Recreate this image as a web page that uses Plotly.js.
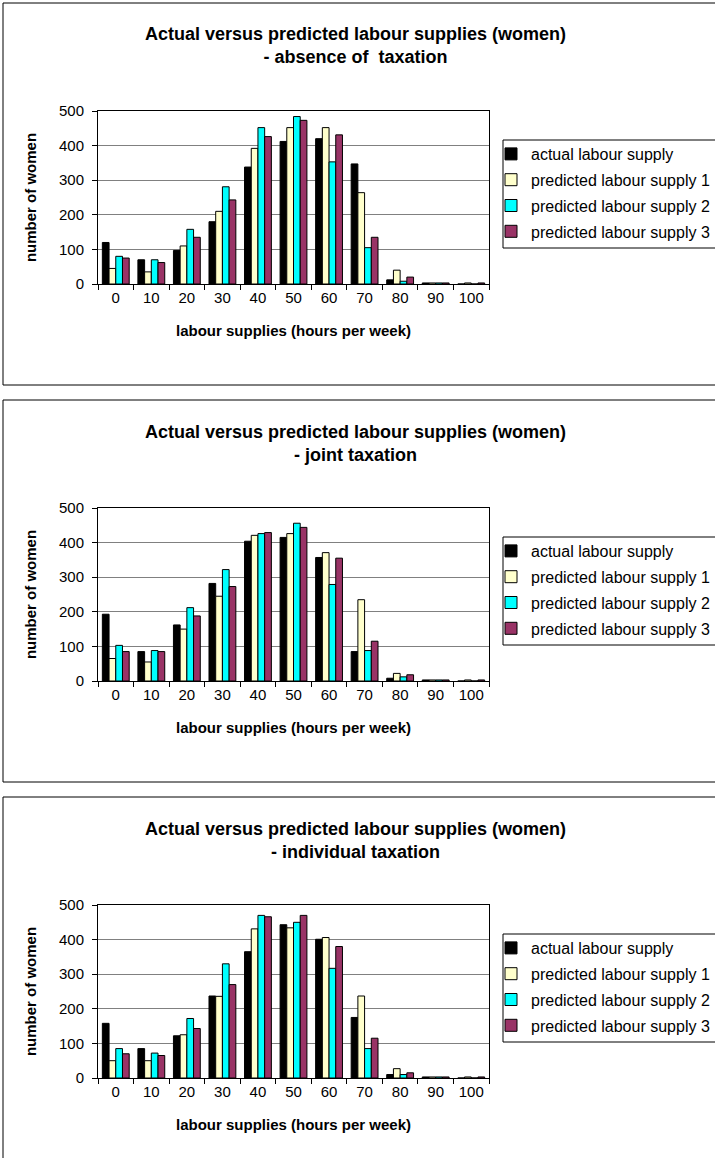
<!DOCTYPE html>
<html>
<head>
<meta charset="utf-8">
<script src="https://cdn.plot.ly/plotly-3.0.1.min.js"></script>
<style>html,body{margin:0;padding:0;background:#fff;}#chart{width:715px;height:1158px;}</style>
</head>
<body>
<div id="chart"></div>
<script>
const categories = ['0','10','20','30','40','50','60','70','80','90','100'];
const seriesNames = ['actual labour supply','predicted labour supply 1','predicted labour supply 2','predicted labour supply 3'];
const seriesColors = ['#000000','#FFFFCC','#00FFFF','#993366'];
const chartTitles = [
  'Actual versus predicted labour supplies (women)<br>- absence of  taxation',
  'Actual versus predicted labour supplies (women)<br>- joint taxation',
  'Actual versus predicted labour supplies (women)<br>- individual taxation'
];
const yTickVals = [0,100,200,300,400,500];

const absenceActual = [120,70,97,180,338,412,420,347,12,3,0];
const absencePred1  = [45,35,110,210,392,452,452,264,40,3,3];
const absencePred2  = [80,70,158,281,452,484,353,105,8,3,0];
const absencePred3  = [75,62,135,243,426,473,431,135,20,3,3];

const jointActual = [193,85,162,282,404,415,357,85,8,3,0];
const jointPred1  = [65,55,150,245,421,426,371,235,22,3,3];
const jointPred2  = [103,88,212,322,426,456,279,88,12,3,0];
const jointPred3  = [85,85,188,273,429,444,355,115,18,3,3];

const indivActual = [158,85,122,237,365,443,401,175,10,3,0];
const indivPred1  = [50,50,125,236,431,434,406,237,27,3,3];
const indivPred2  = [85,72,172,330,470,450,317,85,10,3,0];
const indivPred3  = [70,65,143,270,466,470,380,115,15,3,3];

const charts = [
  [absenceActual, absencePred1, absencePred2, absencePred3],
  [jointActual, jointPred1, jointPred2, jointPred3],
  [indivActual, indivPred1, indivPred2, indivPred3]
];

const W = 715, H = 1158;
const px = x => x / W;
const py = y => 1 - y / H;
const FONT = 'Arial, "Liberation Sans", sans-serif';

const offsets = [0, 397, 794];
const plotLeft = 98, plotRight = 489;

const data = [];
const layout = {
  width: W, height: H,
  margin: {l: 0, r: 0, t: 0, b: 0, autoexpand: false},
  paper_bgcolor: '#fff', plot_bgcolor: '#fff',
  barmode: 'group', bargap: 0.245, bargroupgap: 0,
  font: {family: FONT, size: 12, color: '#000'},
  annotations: [], shapes: []
};

charts.forEach((series, k) => {
  const o = offsets[k];
  const g = {boxTop: 3 + o, boxBot: 385 + o, plotTop: 111 + o, plotBot: 284 + o, title: 46 + o,
             legTop: 140 + o, legBot: 248 + o};
  const sfx = k === 0 ? '' : String(k + 1);
  const legName = 'legend' + sfx;
  series.forEach((vals, i) => {
    data.push({
      type: 'bar', x: categories, y: vals, name: seriesNames[i],
      xaxis: 'x' + sfx, yaxis: 'y' + sfx, legend: legName, legendgroup: 'c' + k + 's' + i,
      marker: {color: seriesColors[i], line: {color: '#000', width: 1}},
      hoverinfo: 'x+y+name'
    });
  });
  layout['xaxis' + sfx] = {
    domain: [px(plotLeft), px(plotRight)], anchor: 'y' + sfx,
    type: 'category', showline: true, linecolor: '#000', linewidth: 1, mirror: true,
    ticks: 'outside', tickson: 'boundaries', ticklen: 5, tickcolor: '#000',
    tickfont: {family: FONT, size: 15}, showgrid: false, zeroline: false,
    title: {text: '<b>labour supplies (hours per week)</b>', font: {family: FONT, size: 15}, standoff: 20}
  };
  layout['yaxis' + sfx] = {
    domain: [py(g.plotBot), py(g.plotTop)], anchor: 'x' + sfx,
    range: [0, 500], tickvals: yTickVals, showline: true, linecolor: '#000', linewidth: 1, mirror: true,
    ticks: 'outside', ticklen: 5, tickcolor: '#000', tickfont: {family: FONT, size: 15},
    ticklabelstandoff: 5,
    showgrid: true, gridcolor: '#808080', gridwidth: 1, zeroline: false,
    title: {text: '<b>number of women</b>', font: {family: FONT, size: 15}, standoff: 18}
  };
  layout[legName] = {
    x: px(491), y: py(g.legTop - 3), xanchor: 'left', yanchor: 'top',
    borderwidth: 0, bgcolor: 'rgba(0,0,0,0)', tracegroupgap: 2,
    font: {family: FONT, size: 16}, traceorder: 'grouped', itemclick: false
  };
  layout.annotations.push({
    xref: 'paper', yref: 'paper', x: px(355), y: py(g.title), xanchor: 'center', yanchor: 'middle',
    text: '<b>' + chartTitles[k] + '</b>', showarrow: false,
    font: {family: FONT, size: 18, color: '#000'}
  });
  layout.shapes.push({
    type: 'rect', xref: 'paper', yref: 'paper', x0: px(3), x1: 1.05, y0: py(g.boxBot), y1: py(g.boxTop),
    line: {color: '#000', width: 1}, fillcolor: 'rgba(0,0,0,0)', layer: 'below'
  });
  layout.shapes.push({
    type: 'rect', xref: 'paper', yref: 'paper', x0: px(503), x1: 1.05, y0: py(g.legBot), y1: py(g.legTop),
    line: {color: '#000', width: 1}, fillcolor: '#fff', layer: 'below'
  });
});

Plotly.newPlot('chart', data, layout, {displayModeBar: false, staticPlot: true});
</script>
</body>
</html>
